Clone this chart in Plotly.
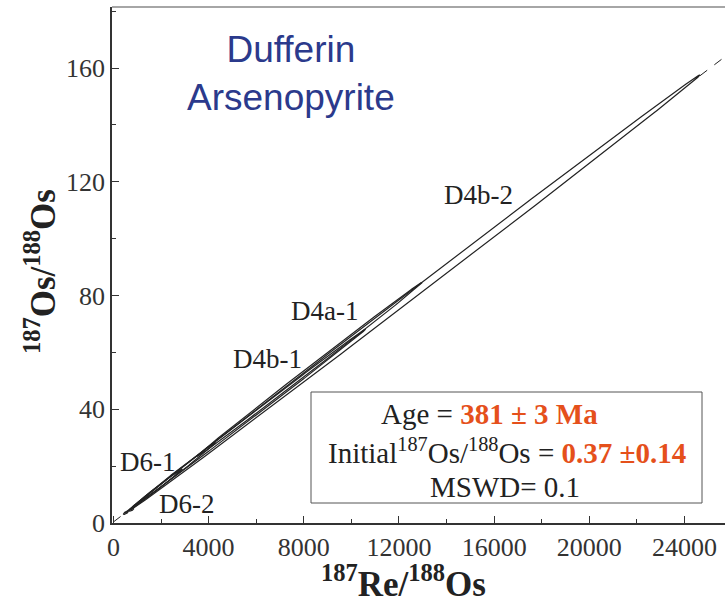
import numpy as np
import plotly.graph_objects as go

# ---- data ----
sample_names = ["D4b-2", "D4a-1", "D4b-1", "D6-1", "D6-2", "D6-2a", "D6-2b"]
# ellipse end points (along the correlation axis) and vertical half-thickness
ell_x_lo = [700, 3500, 1000, 800, 500, 420, 640]
ell_y_lo = [4.6, 23.4, 6.9, 5.6, 3.6, 3.2, 4.3]
ell_x_hi = [24650, 12970, 10600, 4300, 2900, 620, 860]
ell_y_hi = [157.6, 84.6, 68.2, 28.3, 19.0, 4.0, 5.1]
ell_half_width = [1.8, 1.1, 0.9, 0.7, 0.6, 0.4, 0.4]

label_text = ["D4b-2", "D4a-1", "D4b-1", "D6-1", "D6-2"]
label_x = [15340, 8870, 6470, 1470, 3110]
label_y = [115.5, 74.6, 57.7, 21.5, 6.7]

age_ma = 381
initial_ratio = 0.37
decay_const = 1.666e-11
isochron_x_segments = [[0, 700], [24650, 25700]]

x_ticks = [0, 4000, 8000, 12000, 16000, 20000, 24000]
y_ticks = [0, 40, 80, 120, 160]

slope = np.exp(decay_const * age_ma * 1e6) - 1

fig = go.Figure()

t = np.linspace(0, 2 * np.pi, 361)
for i in range(len(ell_x_lo)):
    cx = (ell_x_lo[i] + ell_x_hi[i]) / 2
    cy = (ell_y_lo[i] + ell_y_hi[i]) / 2
    ax = (ell_x_hi[i] - ell_x_lo[i]) / 2
    ay = (ell_y_hi[i] - ell_y_lo[i]) / 2
    xs = cx + ax * np.cos(t)
    ys = cy + ay * np.cos(t) + ell_half_width[i] * np.sin(t)
    fig.add_trace(go.Scatter(x=xs, y=ys, mode="lines",
                             line=dict(color="#222222", width=1.2),
                             hoverinfo="skip", showlegend=False))

for seg in isochron_x_segments:
    xs = np.array(seg, dtype=float)
    fig.add_trace(go.Scatter(x=xs, y=initial_ratio + slope * xs, mode="lines",
                             line=dict(color="#222222", width=1, dash="dash"),
                             hoverinfo="skip", showlegend=False))

serif = "Liberation Serif, Times New Roman, serif"

for txt, lx, ly in zip(label_text, label_x, label_y):
    fig.add_annotation(x=lx, y=ly, text=txt, showarrow=False,
                       font=dict(family=serif, size=27, color="#222"),
                       xanchor="center", yanchor="middle")

# title
fig.add_annotation(x=(291 - 112) / 613, y=(523 - 73) / 516, xref="paper", yref="paper",
                   text="Dufferin<br>Arsenopyrite", showarrow=False,
                   font=dict(family="Liberation Sans, Arial, sans-serif", size=37, color="#2b3a8c"),
                   align="center", xanchor="center", yanchor="middle")

# result box
fig.add_shape(type="rect", xref="paper", yref="paper",
              x0=(311 - 112) / 613, x1=(702 - 112) / 613,
              y0=(523 - 503) / 516, y1=(523 - 392) / 516,
              line=dict(color="#555", width=1), fillcolor="white", layer="above")
orange = "#e5501b"
box_lines = [
    (490, 414, f"Age = <b><span style='color:{orange}'>{age_ma} ± 3 Ma</span></b>"),
    (507, 451, f"Initial<sup>187</sup>Os/<sup>188</sup>Os = <b><span style='color:{orange}'>{initial_ratio:.2f} ±0.14</span></b>"),
    (505, 487, "MSWD= 0.1"),
]
for px, py, txt in box_lines:
    fig.add_annotation(x=(px - 112) / 613, y=(523 - py) / 516, xref="paper", yref="paper",
                       text=txt, showarrow=False,
                       font=dict(family=serif, size=29, color="#222"),
                       xanchor="center", yanchor="middle")

# axis titles
x_title = "<b><sup>187</sup>Re/<sup>188</sup>Os</b>"
y_title = "<b><sup>187</sup>Os/<sup>188</sup>Os</b>"
fig.add_annotation(x=(403 - 112) / 613, y=(523 - 581) / 516, xref="paper", yref="paper",
                   text=x_title, showarrow=False,
                   font=dict(family=serif, size=35, color="#222"),
                   xanchor="center", yanchor="middle")
fig.add_annotation(x=(40 - 112) / 613, y=(523 - 272) / 516, xref="paper", yref="paper",
                   text=y_title, showarrow=False, textangle=-90,
                   font=dict(family=serif, size=35, color="#222"),
                   xanchor="center", yanchor="middle")

# top spine
fig.add_shape(type="line", xref="paper", yref="paper", x0=0, x1=1, y0=1, y1=1,
              line=dict(color="#888", width=1.5))

fig.update_xaxes(range=[-60, 25700], tickvals=x_ticks, ticktext=[str(v) for v in x_ticks],
                 showgrid=False, zeroline=False, showline=True, linecolor="#333", linewidth=1.5,
                 ticks="inside", ticklen=7, tickcolor="#333", tickwidth=1.2,
                 minor=dict(dtick=2000, tick0=0, ticks="inside", ticklen=4, tickcolor="#333"),
                 tickfont=dict(family=serif, size=26, color="#333"))
fig.update_yaxes(range=[0, 181.5], tickvals=y_ticks, ticktext=[str(v) for v in y_ticks],
                 showgrid=False, zeroline=False, showline=True, linecolor="#333", linewidth=1.5,
                 ticks="inside", ticklen=7, tickcolor="#333", tickwidth=1.2,
                 minor=dict(dtick=20, tick0=0, ticks="inside", ticklen=4, tickcolor="#333"),
                 tickfont=dict(family=serif, size=26, color="#333"))

fig.update_layout(width=725, height=605, margin=dict(l=112, r=0, t=7, b=82),
                  plot_bgcolor="white", paper_bgcolor="white", showlegend=False)

fig.write_html("out.html")
